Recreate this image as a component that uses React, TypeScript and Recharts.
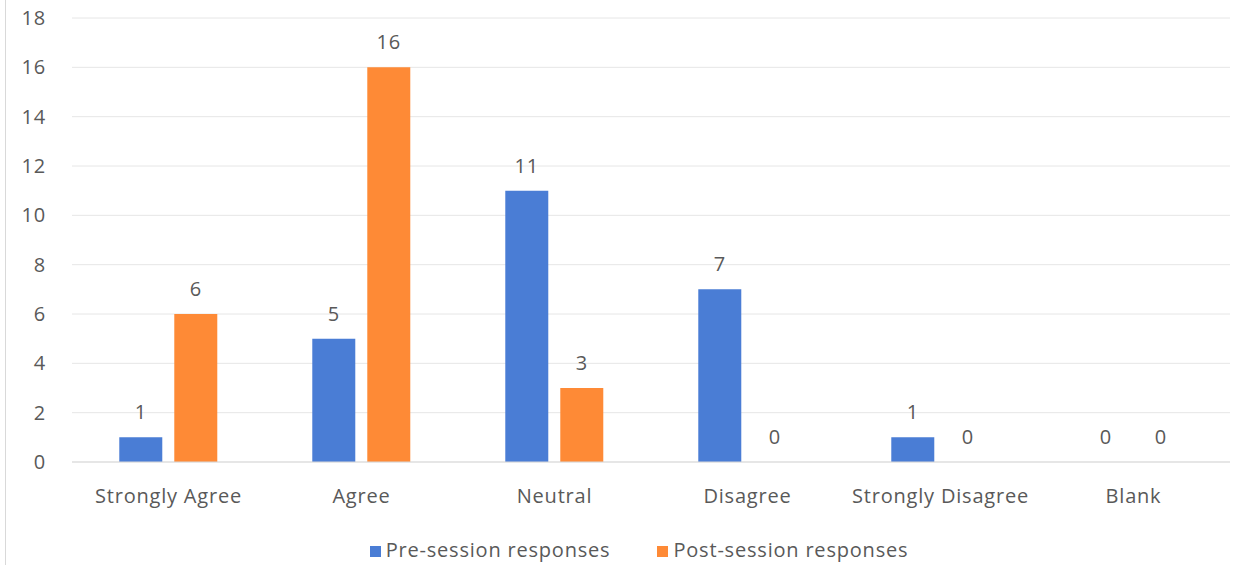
import { BarChart, Bar, XAxis, YAxis, CartesianGrid, Legend, LabelList } from 'recharts';

const categories = ['Strongly Agree', 'Agree', 'Neutral', 'Disagree', 'Strongly Disagree', 'Blank'];
const preSession = [1, 5, 11, 7, 1, 0];
const postSession = [6, 16, 3, 0, 0, 0];
const yTicks = [0, 2, 4, 6, 8, 10, 12, 14, 16, 18];
const seriesOrder = ['pre', 'post'];

const data = categories.map((name, i) => ({
  name,
  pre: preSession[i],
  post: postSession[i],
}));

const FONT = '"Open Sans", sans-serif';
const TEXT = '#595959';
const FS = 20;
const LS = 0.8;

function ValueLabel(props: any) {
  const { x, y, width, value } = props;
  return (
    <text
      x={Number(x) + Number(width) / 2}
      y={Number(y) - 18}
      textAnchor="middle"
      fill={TEXT}
      fontSize={FS}
      fontFamily={FONT}
      letterSpacing={LS}
    >
      {value}
    </text>
  );
}

export default function App() {
  return (
    <div
      style={{
        position: 'absolute',
        left: 0,
        top: 0,
        width: 1248,
        height: 565,
        background: '#fff',
        fontFamily: FONT,
        overflow: 'hidden',
      }}
    >
      <div style={{ position: 'absolute', left: 5, top: 0, width: 1, height: 565, background: '#d9d9d9' }} />
      <BarChart
        width={1248}
        height={565}
        data={data}
        margin={{ top: 18, right: 18, left: 0, bottom: 0 }}
        barCategoryGap="24.5%"
        barGap={12}
      >
        <CartesianGrid vertical={false} stroke="#e6e6e6" />
        <XAxis
          dataKey="name"
          axisLine={{ stroke: '#d9d9d9' }}
          tickLine={false}
          tickSize={0}
          tickMargin={27}
          height={60}
          tick={{ fill: TEXT, fontSize: FS, fontFamily: FONT, letterSpacing: LS }}
        />
        <YAxis
          width={72}
          domain={[0, 18]}
          ticks={yTicks}
          axisLine={false}
          tickLine={false}
          tickSize={0}
          tickMargin={26}
          tick={{ fill: TEXT, fontSize: FS, fontFamily: FONT, letterSpacing: LS }}
        />
        <Legend
          verticalAlign="bottom"
          iconType="square"
          iconSize={11}
          itemSorter={(item: any) => seriesOrder.indexOf(item.dataKey)}
          wrapperStyle={{
            height: 29,
            paddingTop: 14,
            left: 49,
            width: 1190,
            fontSize: FS,
            fontFamily: FONT,
            letterSpacing: LS,
          }}
          formatter={(value, entry: any) => (
            <span style={{ color: TEXT, marginLeft: 1, marginRight: entry.dataKey === 'pre' ? 37 : 0 }}>{value}</span>
          )}
        />
        <Bar dataKey="pre" name="Pre-session responses" fill="#4A7DD5" minPointSize={0.01} isAnimationActive={false}>
          <LabelList dataKey="pre" content={ValueLabel} />
        </Bar>
        <Bar dataKey="post" name="Post-session responses" fill="#FE8A36" minPointSize={0.01} isAnimationActive={false}>
          <LabelList dataKey="post" content={ValueLabel} />
        </Bar>
      </BarChart>
    </div>
  );
}
